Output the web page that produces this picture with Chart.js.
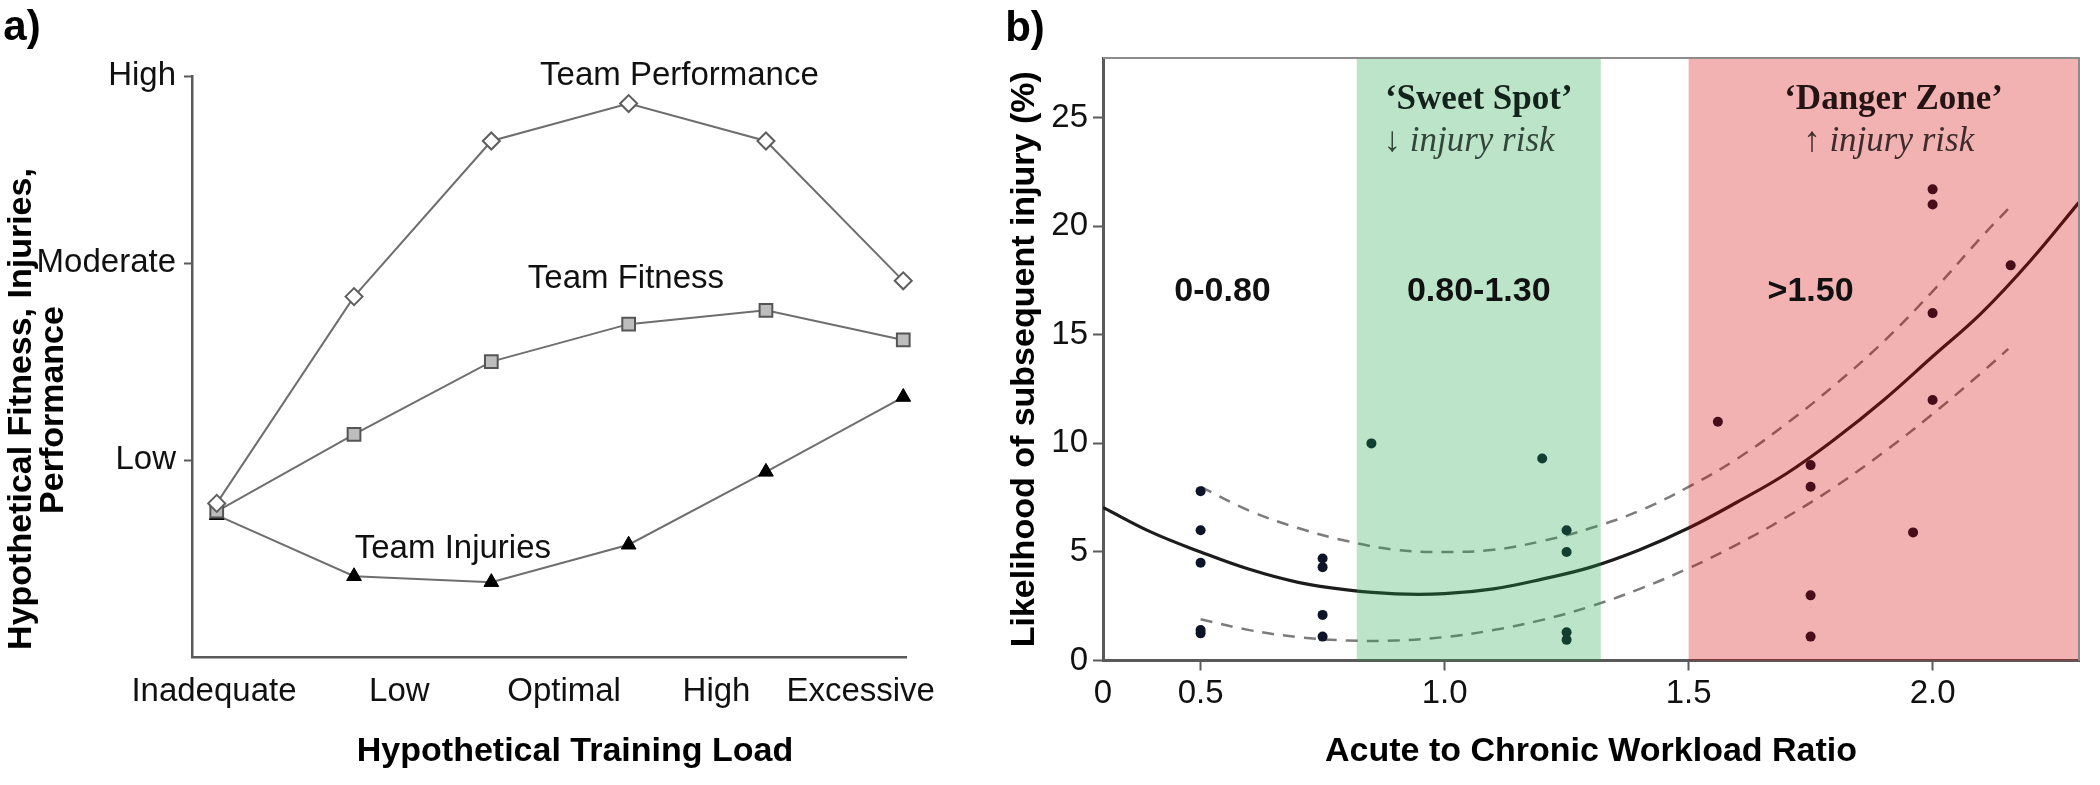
<!DOCTYPE html>
<html>
<head>
<meta charset="utf-8">
<script src="https://cdn.jsdelivr.net/npm/chart.js@4.4.0/dist/chart.umd.min.js"></script>
<style>
  html, body { margin: 0; padding: 0; background: #fff; }
  #wrap { position: relative; width: 2100px; height: 785px; }
  #loadChart { position: absolute; left: 0; top: 0; }
  #acwrChart { position: absolute; left: 960px; top: 0; }
</style>
</head>
<body>
<div id="wrap">
  <canvas id="loadChart" width="960" height="785"></canvas>
  <canvas id="acwrChart" width="1140" height="785"></canvas>
</div>
<script>
// Painel a) - modelo hipotético (0 = eixo, 1 = Low, 2 = Moderate, ~3 = High)
const loadSteps = [0, 1, 2, 3, 4, 5];
const teamPerformance = [0.78, 1.83, 2.62, 2.81, 2.62, 1.91];
const teamFitness = [0.74, 1.13, 1.50, 1.69, 1.76, 1.61];
const teamInjuries = [0.72, 0.41, 0.38, 0.57, 0.94, 1.32];
const loadTickPos = [-0.02, 1.33, 2.53, 3.64, 4.69];
const loadTickLabels = ['Inadequate', 'Low', 'Optimal', 'High', 'Excessive'];
const levelTickPos = [1, 2, 2.95];
const levelTickLabels = ['Low', 'Moderate', 'High'];
const seriesNames = ['Team Performance', 'Team Fitness', 'Team Injuries'];
const seriesNameX = [3.37, 2.98, 1.72];
const seriesNameY = [2.95, 1.92, 0.55];

// Painel b) - razão aguda:crônica x probabilidade de lesão
const acwrX = [0.5, 0.5, 0.5, 0.5, 0.5, 0.75, 0.75, 0.75, 0.75, 0.85, 1.2, 1.25, 1.25, 1.25, 1.25,
               1.56, 1.75, 1.75, 1.75, 1.75, 1.96, 2.0, 2.0, 2.0, 2.0, 2.16];
const injuryPct = [7.8, 6.0, 4.5, 1.4, 1.25, 4.7, 4.3, 2.1, 1.1, 10.0, 9.3, 6.0, 5.0, 1.3, 0.95,
                   11.0, 9.0, 8.0, 3.0, 1.1, 5.9, 21.7, 21.0, 16.0, 12.0, 18.2];
const fitX = [0.3, 0.4, 0.5, 0.6, 0.7, 0.8, 0.9, 1.0, 1.1, 1.2, 1.3, 1.4, 1.5, 1.6, 1.7, 1.8, 1.9, 2.0, 2.1, 2.2, 2.3];
const fitY = [7.05, 5.9, 5.0, 4.2, 3.6, 3.25, 3.07, 3.08, 3.3, 3.75, 4.3, 5.1, 6.1, 7.3, 8.6, 10.2, 12.0, 14.0, 16.0, 18.4, 21.1];
const ciX = [0.5, 0.6, 0.7, 0.8, 0.9, 1.0, 1.1, 1.2, 1.3, 1.4, 1.5, 1.6, 1.7, 1.8, 1.9, 2.0, 2.1, 2.155];
const ciUpper = [8.0, 6.9, 6.1, 5.5, 5.1, 5.0, 5.1, 5.5, 6.1, 6.9, 8.0, 9.3, 10.9, 12.7, 14.7, 17.0, 19.5, 20.8];
const ciLower = [1.9, 1.4, 1.08, 0.92, 0.92, 1.08, 1.4, 1.87, 2.5, 3.3, 4.25, 5.35, 6.6, 8.0, 9.6, 11.35, 13.25, 14.35];
const acwrTickPos = [0.3, 0.5, 1.0, 1.5, 2.0];
const acwrTickLabels = ['0', '0.5', '1.0', '1.5', '2.0'];
const pctTicks = [0, 5, 10, 15, 20, 25];
const sweetSpot = [0.82, 1.32];
const dangerZone = [1.5, 2.3];
const zoneLabels = ['0-0.80', '0.80-1.30', '>1.50'];
const zoneLabelX = [0.545, 1.07, 1.75];
const zoneLabelY = 17.0;

const SANS = '"Liberation Sans", Arial, sans-serif';
const SERIF = '"Liberation Serif", "Times New Roman", serif';

function toXY(xs, ys) {
    return xs.map((x, i) => ({ x: x, y: ys[i] }));
}

function drawText(ctx, text, x, y, font, color, rotate) {
    ctx.save();
    ctx.font = font;
    ctx.fillStyle = color;
    ctx.textAlign = 'center';
    ctx.textBaseline = 'middle';
    ctx.translate(x, y);
    if (rotate) ctx.rotate(-Math.PI / 2);
    ctx.fillText(text, 0, 0);
    ctx.restore();
}

// Textos livres do painel a)
const loadTextPlugin = {
    id: 'loadText',
    afterDatasetsDraw(chart) {
        const { ctx, scales: { x, y } } = chart;
        seriesNames.forEach((name, i) => {
            drawText(ctx, name, x.getPixelForValue(seriesNameX[i]), y.getPixelForValue(seriesNameY[i]),
                '33px ' + SANS, '#111');
        });
        drawText(ctx, 'a)', 22, 28, 'bold 42px ' + SANS, '#000');
        drawText(ctx, 'Hypothetical Training Load', 575, 752, 'bold 34px ' + SANS, '#000');
        drawText(ctx, 'Hypothetical Fitness, Injuries,', 22, 409, 'bold 34px ' + SANS, '#000', true);
        drawText(ctx, 'Performance', 54, 410, 'bold 34px ' + SANS, '#000', true);
    }
};

// Faixas coloridas, rótulos e moldura do painel b)
const zonePlugin = {
    id: 'zones',
    afterDatasetsDraw(chart) {
        const { ctx, chartArea, scales: { x, y } } = chart;

        ctx.save();
        // sobreposição translúcida (tinge os pontos e linhas por baixo)
        ctx.fillStyle = 'rgba(32, 165, 72, 0.3)';
        let x0 = x.getPixelForValue(sweetSpot[0]);
        let x1 = x.getPixelForValue(sweetSpot[1]);
        ctx.fillRect(x0, chartArea.top, x1 - x0, chartArea.height);
        ctx.fillStyle = 'rgba(212, 0, 0, 0.3)';
        x0 = x.getPixelForValue(dangerZone[0]);
        x1 = x.getPixelForValue(dangerZone[1]);
        ctx.fillRect(x0, chartArea.top, x1 - x0, chartArea.height);

        // moldura superior e direita
        ctx.strokeStyle = '#8c8c8c';
        ctx.lineWidth = 2;
        ctx.beginPath();
        ctx.moveTo(chartArea.left, chartArea.top);
        ctx.lineTo(chartArea.right, chartArea.top);
        ctx.lineTo(chartArea.right, chartArea.bottom);
        ctx.stroke();
        ctx.restore();

        const ty = y.getPixelForValue(zoneLabelY);
        zoneLabels.forEach((t, i) => {
            drawText(ctx, t, x.getPixelForValue(zoneLabelX[i]), ty, 'bold 34px ' + SANS, '#111');
        });
        drawText(ctx, '\u2018Sweet Spot\u2019', x.getPixelForValue(1.07), y.getPixelForValue(25.8), 'bold 35px ' + SERIF, '#13221a');
        drawText(ctx, '\u2193 injury risk', x.getPixelForValue(1.05), y.getPixelForValue(23.9), 'italic 35px ' + SERIF, '#33463b');
        drawText(ctx, '\u2018Danger Zone\u2019', x.getPixelForValue(1.92), y.getPixelForValue(25.8), 'bold 35px ' + SERIF, '#241414');
        drawText(ctx, '\u2191 injury risk', x.getPixelForValue(1.91), y.getPixelForValue(23.9), 'italic 35px ' + SERIF, '#3e2c2c');

        drawText(ctx, 'b)', 65, 29, 'bold 42px ' + SANS, '#000');
    }
};

function createLoadChart() {
    const canvas = document.getElementById('loadChart');
    const lineGrey = '#6e6e6e';
    return new Chart(canvas, {
        type: 'line',
        data: {
            datasets: [
                {
                    label: seriesNames[0],
                    data: toXY(loadSteps, teamPerformance),
                    borderColor: lineGrey,
                    borderWidth: 2,
                    pointStyle: 'rectRot',
                    pointRadius: 8.5,
                    pointBackgroundColor: '#ffffff',
                    pointBorderColor: '#5e5e5e',
                    pointBorderWidth: 2,
                    clip: false,
                    order: 1
                },
                {
                    label: seriesNames[1],
                    data: toXY(loadSteps, teamFitness),
                    borderColor: lineGrey,
                    borderWidth: 2,
                    pointStyle: 'rect',
                    pointRadius: 9,
                    pointBackgroundColor: '#bdbdbd',
                    pointBorderColor: '#555555',
                    pointBorderWidth: 2,
                    clip: false,
                    order: 2
                },
                {
                    label: seriesNames[2],
                    data: toXY(loadSteps, teamInjuries),
                    borderColor: lineGrey,
                    borderWidth: 2,
                    pointStyle: 'triangle',
                    pointRadius: 8.5,
                    pointBackgroundColor: '#000000',
                    pointBorderColor: '#000000',
                    pointBorderWidth: 1,
                    clip: false,
                    order: 3
                }
            ]
        },
        options: {
            responsive: false,
            animation: false,
            devicePixelRatio: 1,
            layout: { padding: { top: 76, right: 54, left: 0, bottom: 0 } },
            plugins: { legend: { display: false }, tooltip: { enabled: false } },
            scales: {
                x: {
                    type: 'linear',
                    min: -0.18,
                    max: 5.02,
                    afterBuildTicks: (scale) => { scale.ticks = loadTickPos.map(v => ({ value: v })); },
                    afterFit: (scale) => { scale.height = 128; },
                    grid: { display: false, drawTicks: false },
                    border: { display: true, color: '#5a5a5a', width: 2.5 },
                    ticks: {
                        autoSkip: false,
                        maxRotation: 0,
                        padding: 15,
                        color: '#111',
                        font: { family: SANS, size: 33 },
                        callback: (v, i) => loadTickLabels[i]
                    }
                },
                y: {
                    type: 'linear',
                    min: 0,
                    max: 2.95,
                    afterBuildTicks: (scale) => { scale.ticks = levelTickPos.map(v => ({ value: v })); },
                    afterFit: (scale) => { scale.width = 192; },
                    grid: { drawOnChartArea: false, drawTicks: true, tickLength: 8, tickColor: '#5a5a5a', tickWidth: 2 },
                    border: { display: true, color: '#5a5a5a', width: 2.5 },
                    ticks: {
                        padding: 8,
                        color: '#111',
                        font: { family: SANS, size: 33 },
                        callback: (v, i) => levelTickLabels[i]
                    }
                }
            }
        },
        plugins: [loadTextPlugin]
    });
}

function createAcwrChart() {
    const canvas = document.getElementById('acwrChart');
    return new Chart(canvas, {
        type: 'scatter',
        data: {
            datasets: [
                {
                    type: 'scatter',
                    label: 'Jogadores',
                    data: toXY(acwrX, injuryPct),
                    pointRadius: 5,
                    pointBackgroundColor: '#0c1428',
                    pointBorderColor: '#0c1428',
                    pointBorderWidth: 0,
                    order: 1
                },
                {
                    type: 'line',
                    label: 'Ajuste',
                    data: toXY(fitX, fitY),
                    borderColor: '#1c1c1c',
                    borderWidth: 3.2,
                    tension: 0.4,
                    pointRadius: 0,
                    fill: false,
                    order: 2
                },
                {
                    type: 'line',
                    label: 'IC superior',
                    data: toXY(ciX, ciUpper),
                    borderColor: '#7c7c7c',
                    borderWidth: 2.5,
                    borderDash: [12, 9],
                    tension: 0.4,
                    pointRadius: 0,
                    fill: false,
                    order: 3
                },
                {
                    type: 'line',
                    label: 'IC inferior',
                    data: toXY(ciX, ciLower),
                    borderColor: '#7c7c7c',
                    borderWidth: 2.5,
                    borderDash: [12, 9],
                    tension: 0.4,
                    pointRadius: 0,
                    fill: false,
                    order: 4
                }
            ]
        },
        options: {
            responsive: false,
            animation: false,
            devicePixelRatio: 1,
            layout: { padding: { top: 58, right: 21, left: 0, bottom: 0 } },
            plugins: { legend: { display: false }, tooltip: { enabled: false } },
            scales: {
                x: {
                    type: 'linear',
                    min: 0.3,
                    max: 2.3,
                    afterBuildTicks: (scale) => { scale.ticks = acwrTickPos.map(v => ({ value: v })); },
                    afterFit: (scale) => { scale.height = 124.5; },
                    grid: {
                        drawOnChartArea: false,
                        drawTicks: true,
                        tickLength: 10,
                        tickWidth: 2,
                        tickColor: (c) => (c.tick && c.tick.value === acwrTickPos[0]) ? 'rgba(0,0,0,0)' : '#5a5a5a'
                    },
                    border: { display: true, color: '#5a5a5a', width: 3 },
                    ticks: {
                        autoSkip: false,
                        maxRotation: 0,
                        padding: 4,
                        color: '#111',
                        font: { family: SANS, size: 33 },
                        callback: (v, i) => acwrTickLabels[i]
                    },
                    title: {
                        display: true,
                        text: 'Acute to Chronic Workload Ratio',
                        color: '#000',
                        font: { family: SANS, size: 34, weight: 'bold' },
                        padding: { top: 0, bottom: 12.6 }
                    }
                },
                y: {
                    type: 'linear',
                    min: 0,
                    max: 27.75,
                    afterBuildTicks: (scale) => { scale.ticks = pctTicks.map(v => ({ value: v })); },
                    afterFit: (scale) => { scale.width = 143; },
                    grid: { drawOnChartArea: false, drawTicks: true, tickLength: 10, tickWidth: 2, tickColor: '#5a5a5a' },
                    border: { display: true, color: '#5a5a5a', width: 3 },
                    ticks: {
                        padding: 5,
                        color: '#111',
                        font: { family: SANS, size: 33 },
                        callback: (v) => String(v)
                    },
                    title: {
                        display: true,
                        text: 'Likelihood of subsequent injury (%)',
                        color: '#000',
                        font: { family: SANS, size: 34, weight: 'bold' },
                        padding: { top: 44.6, bottom: 0 }
                    }
                }
            }
        },
        plugins: [zonePlugin]
    });
}

document.addEventListener('DOMContentLoaded', () => {
    createLoadChart();
    createAcwrChart();
});
</script>
</body>
</html>
